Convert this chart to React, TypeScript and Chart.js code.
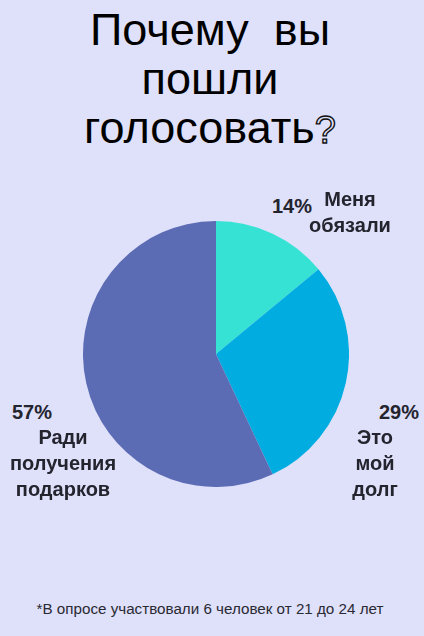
import React, { useEffect, useRef } from "react";
import { Chart, registerables } from "chart.js";

Chart.register(...registerables);

const categories = [["Меня", "обязали"], ["Это", "мой", "долг"], ["Ради", "получения", "подарков"]];
const values = [14, 29, 57];
const colors = ["#36e2d4", "#00ace0", "#5b6cb4"];

const BG = "#dfe0fa";
const INK = "#24242e";
const FONT = "'Liberation Sans', Arial, sans-serif";

export default function App() {
  const canvasRef = useRef<HTMLCanvasElement>(null);

  useEffect(() => {
    if (!canvasRef.current) return;
    const chart = new Chart(canvasRef.current, {
      type: "pie",
      data: {
        labels: categories.map((c) => c.join(" ")),
        datasets: [
          {
            data: values,
            backgroundColor: colors,
            borderWidth: 0,
          },
        ],
      },
      options: {
        responsive: true,
        maintainAspectRatio: false,
        animation: false,
        layout: { padding: 0 },
        plugins: {
          legend: { display: false },
          tooltip: { enabled: false },
        },
      },
    });
    return () => chart.destroy();
  }, []);

  const label: React.CSSProperties = {
    position: "absolute",
    fontFamily: FONT,
    fontWeight: 700,
    fontSize: 20,
    lineHeight: "26px",
    color: INK,
    textAlign: "center",
    whiteSpace: "nowrap",
  };

  return (
    <div style={{ position: "fixed", inset: 0, width: 424, height: 636, background: BG, overflow: "hidden" }}>
      <div
        style={{
          position: "absolute",
          top: 5,
          left: -2,
          width: 424,
          textAlign: "center",
          fontFamily: FONT,
          fontSize: 45,
          lineHeight: "49px",
          color: "#000",
          whiteSpace: "pre",
        }}
      >
        {"Почему  вы\nпошли\nголосовать"}
        <span style={{ color: "transparent", WebkitTextStroke: "1.4px #111", fontSize: 38 }}>?</span>
      </div>

      <div style={{ position: "absolute", left: 83, top: 221, width: 266, height: 266 }}>
        <canvas ref={canvasRef} />
      </div>

      <div style={{ ...label, left: 272, top: 193 }}>{values[0]}%</div>
      <div style={{ ...label, left: 295, top: 186, width: 110 }}>
        {categories[0].map((t) => (
          <div key={t}>{t}</div>
        ))}
      </div>

      <div style={{ ...label, right: 5, top: 399 }}>{values[1]}%</div>
      <div style={{ ...label, left: 330, top: 424, width: 90 }}>
        {categories[1].map((t) => (
          <div key={t}>{t}</div>
        ))}
      </div>

      <div style={{ ...label, left: 12, top: 399 }}>{values[2]}%</div>
      <div style={{ ...label, left: 3, top: 424, width: 120 }}>
        {categories[2].map((t) => (
          <div key={t}>{t}</div>
        ))}
      </div>

      <div
        style={{
          position: "absolute",
          top: 600,
          left: -2,
          width: 424,
          textAlign: "center",
          fontFamily: FONT,
          fontSize: 15.2,
          color: "#2a2a32",
        }}
      >
        *В опросе участвовали 6 человек от 21 до 24 лет
      </div>
    </div>
  );
}
